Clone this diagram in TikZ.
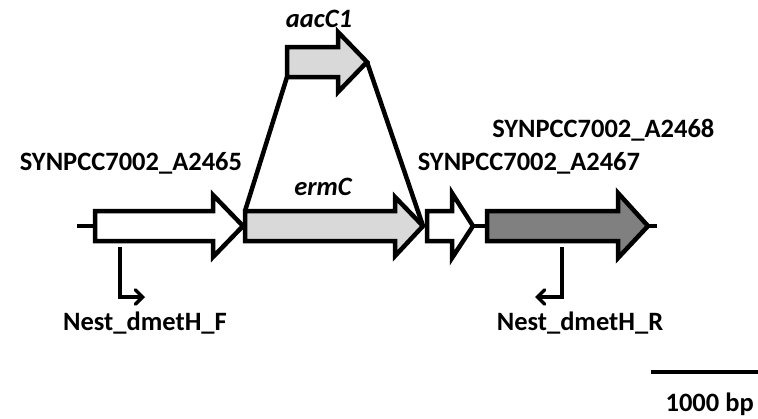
\documentclass[tikz,border=0pt]{standalone}
\usepackage{fontspec}
\setmainfont{Carlito}
\usepackage{tikz}
\usetikzlibrary{arrows,positioning}
\definecolor{lightgene}{RGB}{217,217,217}
\definecolor{darkgene}{RGB}{128,128,128}
\tikzstyle{gene}=[draw=black,line width=4.5pt,line join=miter]
\tikzstyle{lbl}=[inner sep=0pt,font=\fontsize{26.5}{30}\selectfont\bfseries]
\tikzstyle{ilbl}=[inner sep=0pt,font=\fontsize{26.5}{30}\selectfont\bfseries\itshape]
\tikzset{every picture/.style={line width=4.5pt}}
\begin{document}
\begin{tikzpicture}[x=1pt,y=-1pt]
\useasboundingbox (0,0) rectangle (758,418);
% backbone
\coordinate (b0) at (77,226);
\coordinate (b1) at (95,226);
\coordinate (b2) at (473,226);
\coordinate (b3) at (487,226);
\coordinate (b4) at (648,226);
\coordinate (b5) at (657,226);
\draw (b0) -- (b1) (b2) -- (b3) (b4) -- (b5);
% genes
\draw[gene,fill=white] (95,211) -- (213,211) -- (213,195) -- (243,226) -- (213,257) -- (213,241) -- (95,241) -- cycle;
\draw[gene,fill=lightgene] (245,211) -- (395,211) -- (395,197) -- (423,226) -- (395,256) -- (395,241) -- (245,241) -- cycle;
\draw[gene,fill=lightgene] (287,47) -- (338,47) -- (338,32) -- (367,62) -- (338,92) -- (338,77) -- (287,77) -- cycle;
\draw[gene,fill=white] (427,211) -- (452,211) -- (452,193) -- (473,226) -- (452,258) -- (452,241) -- (427,241) -- cycle;
\draw[gene,fill=darkgene] (487,211) -- (618,211) -- (618,193) -- (648,226) -- (618,258) -- (618,241) -- (487,241) -- cycle;
% insertion
\coordinate (aacL) at (287,77);
\coordinate (aacT) at (367,62);
\coordinate (ermL) at (245,211);
\coordinate (ermT) at (423,226);
\draw (aacL) -- (ermL);
\draw (aacT) -- (ermT);
% primers
\coordinate (pF0) at (120,247);
\coordinate (pF1) at (120,297);
\coordinate (pF2) at (145,297);
\coordinate (pR0) at (562,247);
\coordinate (pR1) at (562,297);
\coordinate (pR2) at (535,297);
\draw[->,>=angle 90,line width=3.5pt] (pF0) -- (pF1) -- (pF2);
\draw[->,>=angle 90,line width=3.5pt] (pR0) -- (pR1) -- (pR2);
% labels
\node[lbl] (g2465) at (131,163) {SYNPCC7002\_A2465};
\node[lbl] (g2467) at (529,163) {SYNPCC7002\_A2467};
\node[lbl,anchor=west] (g2468) at (490,130) {SYNPCC7002\_A2468};
\node[ilbl] (aac) at (319,19) {aacC1};
\node[ilbl] (erm) at (323,187) {ermC};
\node[lbl] (nF) at (145,323) {Nest\_dmetH\_F};
\node[lbl] (nR) at (580,323) {Nest\_dmetH\_R};
% scale bar
\coordinate (s0) at (651,372);
\coordinate (s1) at (758,372);
\draw[line width=4.5pt] (s0) -- (s1);
\node[lbl,anchor=east] (bp) at (756,404) {1000 bp};
\end{tikzpicture}
\end{document}
